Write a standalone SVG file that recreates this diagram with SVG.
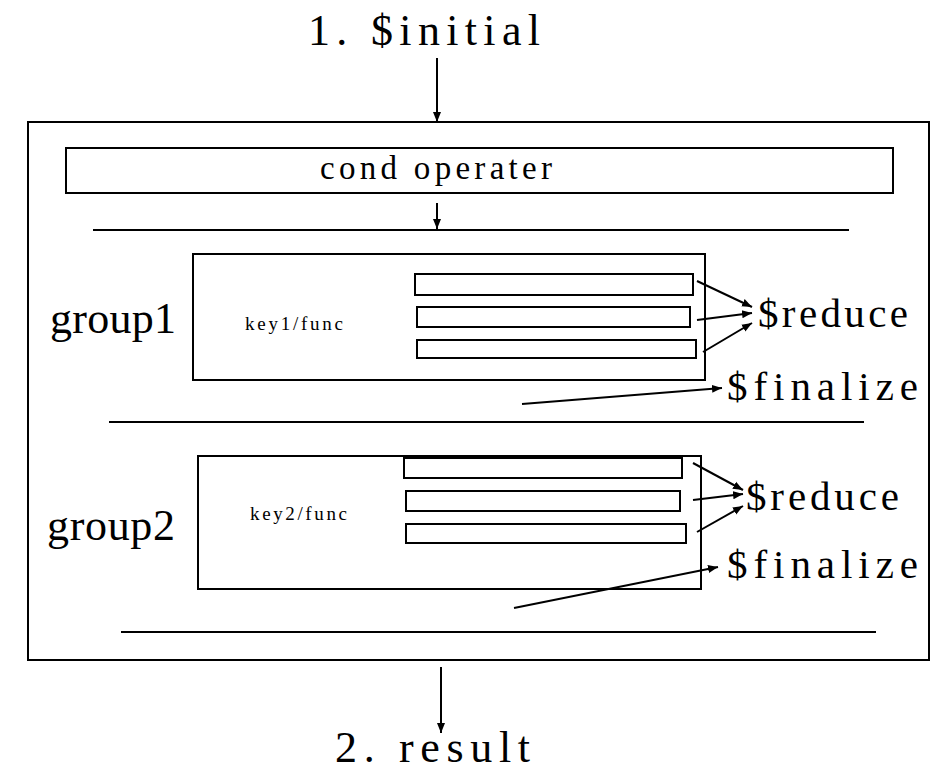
<svg xmlns="http://www.w3.org/2000/svg" width="948" height="771" viewBox="0 0 948 771">
<defs>
<marker id="ah" viewBox="0 0 10 10" refX="10" refY="5" markerWidth="10" markerHeight="10" markerUnits="userSpaceOnUse" orient="auto">
<path d="M0,1 L10,5 L0,9 z" fill="#000"/>
</marker>
</defs>
<style>
.b{fill:#fff;stroke:#000;stroke-width:2}
.sep{stroke:#000;stroke-width:2}
.c line{stroke:#000;stroke-width:2;marker-end:url(#ah)}
text{fill:#000}
.big{font-size:44px}
.mid{font-size:41px}
.sm{font-size:19px}
</style>
<rect width="948" height="771" fill="#fff"/>
<g font-family="'Times New Roman', 'Liberation Serif', Tinos, serif">
<g id="initial"><text class="big" x="308" y="45" textLength="232" lengthAdjust="spacing">1. $initial</text></g>
<g id="container"><rect class="b" x="28" y="122" width="901" height="538"/></g>
<g id="cond"><rect class="b" x="66" y="148" width="827" height="45"/>
<text x="320" y="179" style="font-size:33px" textLength="232" lengthAdjust="spacing">cond operater</text></g>
<line class="sep" x1="93" y1="230" x2="849" y2="230"/>
<g id="group1">
<text class="big" x="50" y="333" textLength="126" lengthAdjust="spacing">group1</text>
<rect class="b" x="193" y="254" width="512" height="126"/>
<text class="sm" x="245" y="330" textLength="98" lengthAdjust="spacing">key1/func</text>
<rect class="b" x="415" y="274" width="278" height="21"/>
<rect class="b" x="417" y="307" width="273" height="20"/>
<rect class="b" x="417" y="340" width="279" height="18"/>
</g>
<g id="reduce1"><text class="mid" x="758" y="327" textLength="150" lengthAdjust="spacing">$reduce</text></g>
<g id="finalize1"><text class="mid" x="727" y="400" textLength="191" lengthAdjust="spacing">$finalize</text></g>
<line class="sep" x1="109" y1="422" x2="864" y2="422"/>
<g id="group2">
<text class="big" x="47" y="540" textLength="128" lengthAdjust="spacing">group2</text>
<rect class="b" x="198" y="456" width="503" height="133"/>
<text class="sm" x="250" y="520" textLength="97" lengthAdjust="spacing">key2/func</text>
<rect class="b" x="404" y="458" width="278" height="20"/>
<rect class="b" x="406" y="491" width="274" height="20"/>
<rect class="b" x="406" y="524" width="280" height="19"/>
</g>
<g id="reduce2"><text class="mid" x="746" y="510" textLength="153" lengthAdjust="spacing">$reduce</text></g>
<g id="finalize2"><text class="mid" x="727" y="578" textLength="191" lengthAdjust="spacing">$finalize</text></g>
<line class="sep" x1="121" y1="632" x2="876" y2="632"/>
<g id="result"><text class="big" x="335" y="762" textLength="195" lengthAdjust="spacing">2. result</text></g>
</g>
<g id="connectors" class="c">
<line x1="437" y1="58" x2="437" y2="122"/>
<line x1="437" y1="203" x2="437" y2="229"/>
<line x1="697" y1="281" x2="752" y2="307"/>
<line x1="697" y1="320" x2="752" y2="313"/>
<line x1="703" y1="352" x2="752" y2="323"/>
<line x1="522" y1="404" x2="722" y2="388"/>
<line x1="693" y1="463" x2="743" y2="490"/>
<line x1="693" y1="500" x2="743" y2="494"/>
<line x1="697" y1="532" x2="743" y2="506"/>
<line x1="514" y1="608" x2="718" y2="567"/>
<line x1="441" y1="667" x2="441" y2="733"/>
</g>
</svg>
